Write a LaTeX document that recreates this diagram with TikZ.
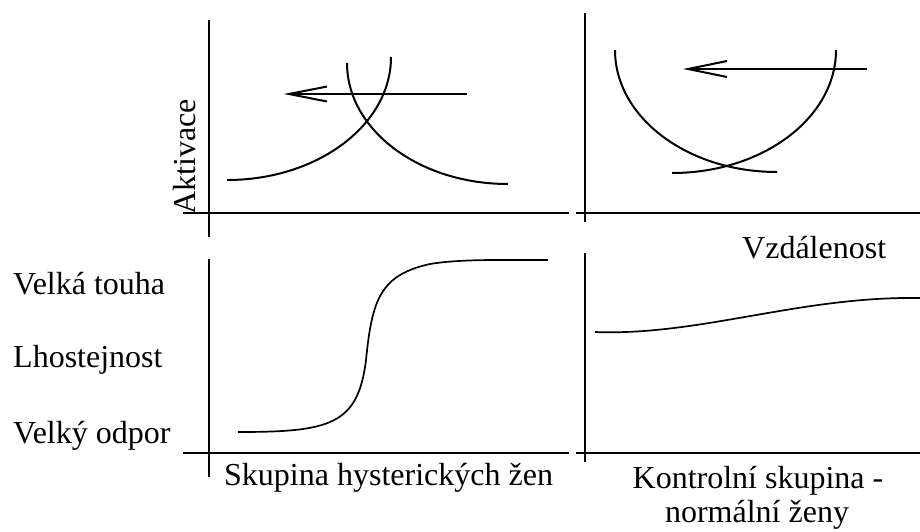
\documentclass[tikz,border=0pt]{standalone}
\usepackage{fontspec}
\setmainfont{Liberation Serif}
\begin{document}
\begin{tikzpicture}[x=1pt,y=-1pt,
  axis/.style={line width=1.9pt},
  curve/.style={line width=2pt},
  thin curve/.style={line width=1.7pt},
  lbl/.style={inner sep=0pt,font=\fontsize{32}{36}\selectfont}]
\useasboundingbox (0,0) rectangle (920,531);
% ---- axes ----
\coordinate (tlv1) at (209,20);  \coordinate (tlv2) at (209,237);
\coordinate (tlh1) at (183,213); \coordinate (tlh2) at (569,213);
\coordinate (trv1) at (585,13);  \coordinate (trv2) at (585,222);
\coordinate (trh1) at (576,213); \coordinate (trh2) at (920,213);
\coordinate (blv1) at (209,259); \coordinate (blv2) at (209,477);
\coordinate (blh1) at (183,453); \coordinate (blh2) at (569,453);
\coordinate (brv1) at (585,253); \coordinate (brv2) at (585,462);
\coordinate (brh1) at (576,453); \coordinate (brh2) at (920,453);
\draw[axis] (tlv1) -- (tlv2);
\draw[axis] (tlh1) -- (tlh2);
\draw[axis] (trv1) -- (trv2);
\draw[axis] (trh1) -- (trh2);
\draw[axis] (blv1) -- (blv2);
\draw[axis] (blh1) -- (blh2);
\draw[axis] (brv1) -- (brv2);
\draw[axis] (brh1) -- (brh2);
% ---- top left curves ----
\draw[curve] (227,180) .. controls (317.6,180) and (391,124.9) .. (391,57);
\draw[curve] (347,63) .. controls (347,129.8) and (419,184) .. (508,184);
% arrow
\coordinate (a1s) at (467,94); \coordinate (a1t) at (289,94);
\draw[curve] (a1s) -- (a1t);
\draw[curve] (327,86.5) -- (a1t) -- (327,101.5);
% ---- top right curves ----
\draw[curve] (615,50) .. controls (615,117.4) and (687.5,172) .. (777,172);
\draw[curve] (836,50) .. controls (836,117.9) and (762.6,173) .. (672,173);
\coordinate (a2s) at (867,69); \coordinate (a2t) at (688,69);
\draw[curve] (a2s) -- (a2t);
\draw[curve] (727,61) -- (a2t) -- (727,77);
% ---- bottom left S curve ----
\draw[thin curve] (238,432) .. controls (330,432) and (358,425) .. (366,360)
  .. controls (372,300) and (380,275) .. (430,264)
  .. controls (460,259) and (500,260) .. (548,260);
% ---- bottom right curve ----
\draw[thin curve] (595,332) .. controls (700,336) and (800,296) .. (920,298);
% ---- labels ----
\node[lbl,anchor=base west,rotate=90] (akt) at (195,215) {Aktivace};
\node[lbl,anchor=base west] (vzd) at (742,258) {Vzdálenost};
\node[lbl,anchor=base west] (vt) at (13,294) {Velká touha};
\node[lbl,anchor=base west] (lh) at (13,367) {Lhostejnost};
\node[lbl,anchor=base west] (vo) at (13,443) {Velký odpor};
\node[lbl,anchor=base west] (sk) at (224,485) {Skupina hysterických žen};
\node[lbl,anchor=base] (ks1) at (758,488) {Kontrolní skupina -};
\node[lbl,anchor=base] (ks2) at (757,522) {normální ženy};
\end{tikzpicture}
\end{document}
